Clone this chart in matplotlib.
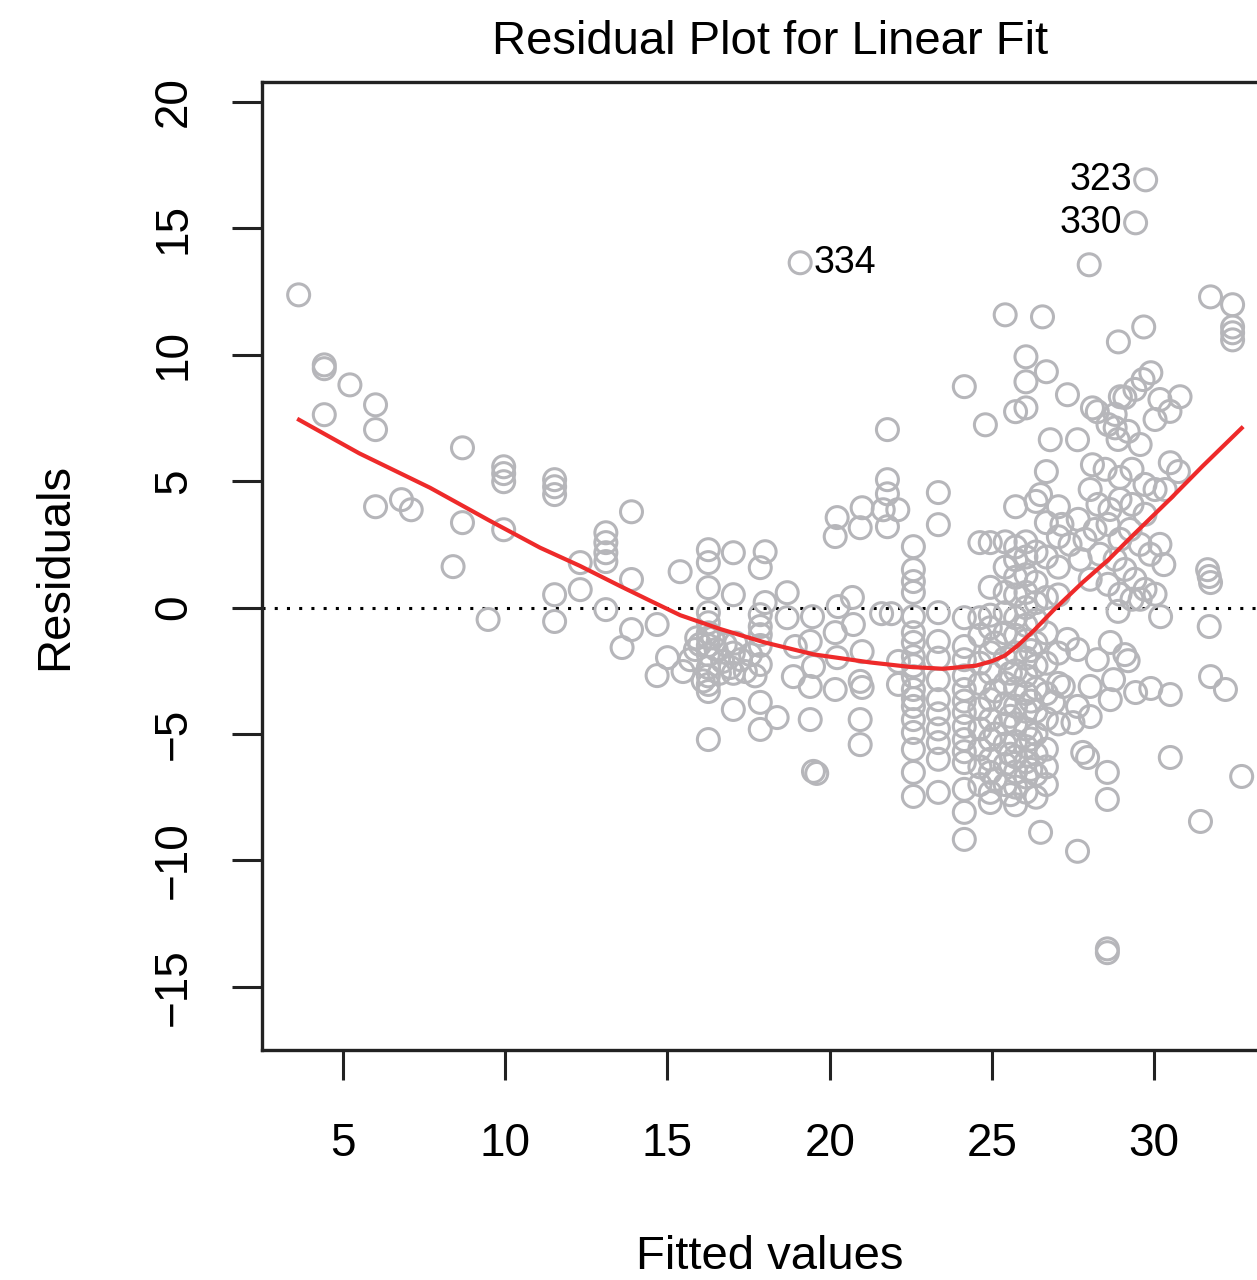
import numpy as np
import matplotlib
matplotlib.use("Agg")
import matplotlib.pyplot as plt

plt.rcParams['font.family'] = ['Liberation Sans', 'DejaVu Sans']

# scattered single points: fitted value, residual
loose_fit = [3.63, 4.42, 4.42, 4.42, 5.21, 6.0, 6.0, 6.0, 6.8, 7.1, 8.39, 8.68, 8.68, 9.47,
             11.52, 11.52, 11.52, 11.52, 11.52, 12.31, 12.31, 13.89, 13.89, 13.89, 13.6,
             14.68, 14.68, 15.0, 15.39, 15.48,
             16.0, 15.86, 15.7, 16.5, 16.7, 16.78, 16.94, 17.25, 17.4, 17.56,
             16.4, 16.6, 17.1, 17.7, 16.1, 15.9,
             18.01, 18.01, 18.38, 18.69, 18.69, 18.88, 18.94,
             19.4, 19.4, 19.4, 19.47, 19.5, 19.5, 19.6,
             20.17, 20.17, 20.17, 20.23, 20.23, 20.26, 20.7, 20.73,
             20.94, 20.94, 20.94, 20.94, 21.0, 21.0, 21.0,
             21.65, 21.78, 21.78, 21.78, 21.78, 21.6, 21.9, 22.1, 22.12, 22.12,
             24.8, 26.5, 26.5, 26.56, 26.8, 26.9, 27.2, 27.33, 27.33, 27.5,
             27.64, 27.64, 27.64, 27.64, 27.8, 27.95, 28.0, 28.03, 28.03, 28.1, 28.1,
             28.25, 28.25, 28.56, 28.56, 28.65, 28.65, 28.75, 28.8, 28.9, 28.96,
             29.43, 29.68, 29.9, 30.2, 30.3, 30.5, 30.5, 30.5, 30.75, 30.8, 31.43,
             31.65, 31.7, 31.7, 31.74, 31.74, 31.74, 32.2, 32.7,
             29.1, 29.2, 29.9]
loose_res = [12.37, 9.6, 9.45, 7.63, 8.81, 8.02, 7.04, 3.99, 4.27, 3.87, 1.62, 6.32, 3.36, -0.47,
             5.06, 4.78, 4.47, 0.51, -0.55, 1.78, 0.71, 3.79, 1.11, -0.87, -1.58,
             -0.67, -2.69, -1.98, 1.42, -2.53,
             -1.46, -1.66, -2.06, -1.66, -2.13, -1.46, -2.37, -2.06, -2.53, -1.86,
             -1.2, -2.6, -1.4, -2.7, -2.9, -1.2,
             2.21, 0.2, -4.35, -0.4, 0.59, -2.73, -1.54,
             -1.34, -3.12, -4.43, -0.36, -2.33, -6.48, -6.56,
             2.81, -0.99, -3.24, 3.56, -1.98, 0.04, 0.4, -0.67,
             3.16, -2.92, -4.43, -5.42, 3.95, -1.74, -3.16,
             3.87, 7.04, 5.06, 4.5, 3.2, -0.24, -0.24, 3.87, -2.13, -3.04,
             7.23, 4.47, -8.89, 11.5, 6.64, -3.75, -3.12, 8.42, -1.26, -4.55,
             6.64, -1.66, -3.91, -9.64, -5.73, -5.93, 13.56, -3.12, -4.31, 7.9, 5.65,
             7.75, -2.06, -6.52, -7.59, -1.38, -3.64, -2.85, 7.11, 10.51, 8.34,
             -3.36, 11.1, 9.29, -0.36, 1.7, 5.73, -3.44, -5.93, 5.38, 8.34, -8.46,
             1.5, 1.23, -0.75, 0.99, 12.29, -2.73, -3.24, -6.68,
             -1.86, -2.1, -3.2]

# right-hand cloud above the zero line
cloud_fit = [28.8, 29.1, 29.41, 29.66, 30.18, 30.49, 28.58, 28.89, 29.2, 29.57, 30.03,
             28.49, 28.95, 29.32, 29.72, 30.03, 30.34, 28.03, 28.27, 28.64, 28.95, 29.32,
             29.72, 28.18, 28.58, 28.95, 29.26, 29.57, 29.88, 30.18, 28.33, 28.8, 29.1,
             29.41, 29.72, 30.03, 28.58, 28.95, 29.32, 28.89, 29.57, 28.03, 27.72, 27.41,
             27.16, 27.66, 27.87]
cloud_res = [7.64, 8.31, 8.63, 9.02, 8.23, 7.76, 7.24, 6.65, 6.97, 6.45, 7.44,
             5.47, 5.15, 5.47, 4.87, 4.67, 4.67, 4.67, 4.08, 3.88, 4.28, 4.08,
             3.69, 3.09, 3.29, 2.7, 3.09, 2.5, 2.11, 2.5, 2.11, 1.91, 1.51,
             1.12, 0.72, 0.53, 0.92, 0.53, 0.33, -0.15, 0.33, 1.12, 1.91, 2.5,
             3.29, 3.49, 2.7]

# stacked columns (several cars share the same fitted value)
stack_fit = [9.95, 13.1, 16.26, 17.03, 17.86, 22.58, 23.35, 24.15, 24.63, 24.95,
             25.1, 25.41, 25.57, 25.73, 26.05, 26.2, 26.36, 26.68, 27.05, 28.56, 32.42]
stack_res = [
    [5.57, 5.3, 4.98, 3.08],
    [2.96, 2.57, 2.17, 1.82, -0.08],
    [2.29, 1.78, 0.79, -0.2, -0.6, -1.0, -1.2, -1.5, -1.86, -2.37, -2.7, -3.04, -3.32, -5.22],
    [2.17, 0.51, -1.8, -2.6, -4.03],
    [1.58, -0.28, -0.75, -1.07, -1.5, -2.25, -3.75, -4.82],
    [2.41, 1.5, 1.03, 0.6, -0.36, -0.99, -1.38, -1.94, -2.3, -2.73, -3.24, -3.6, -3.91,
     -4.43, -4.94, -5.61, -6.52, -7.47],
    [4.55, 3.28, -0.2, -1.34, -2.0, -2.85, -3.64, -4.2, -4.8, -5.34, -6.0, -7.31],
    [8.74, -0.4, -1.54, -2.06, -2.7, -3.24, -3.7, -4.15, -4.7, -5.22, -5.7, -6.13, -7.19,
     -8.1, -9.17],
    [2.57, -0.4, -1.1, -2.2, -3.0, -4.0, -4.8, -5.6, -6.3, -7.0],
    [2.57, 0.8, -0.3, -0.8, -1.78, -2.57, -3.64, -4.43, -5.22, -6.0, -6.52, -7.31, -7.71],
    [-1.4, -3.3, -5.0, -6.8],
    [11.58, 2.6, 1.6, 0.6, -0.2, -1.0, -2.0, -3.0, -3.8, -4.6, -5.4, -6.2, -7.0],
    [-2.6, -4.3, -5.8, -7.4],
    [7.75, 3.99, 2.4, 1.9, 1.2, 0.5, -0.4, -1.1, -1.8, -2.5, -3.2, -3.9, -4.6, -5.3, -5.9,
     -6.5, -7.1, -7.8],
    [9.92, 8.93, 7.9, 2.6, 2.0, 1.3, 0.6, 0.0, -0.7, -1.3, -2.0, -2.7, -3.4, -4.1, -4.8,
     -5.5, -6.1, -6.7, -7.3],
    [-1.7, -3.7, -5.2, -6.4],
    [4.2, 2.2, 1.0, 0.2, -0.5, -1.4, -2.3, -3.2, -4.1, -5.0, -5.8, -6.6, -7.5],
    [9.33, 5.38, 3.36, 2.0, 0.4, -1.0, -2.2, -3.4, -4.4, -5.6, -6.3, -7.0],
    [3.99, 2.8, 1.6, 0.5, -1.8, -3.0, -4.6],
    [-13.5, -13.65],
    [11.98, 11.1, 10.87, 10.59],
]

# observations flagged by number
label_fit = [19.09, 29.74, 29.43]
label_res = [13.64, 16.92, 15.22]
label_ids = ['334', '323', '330']

# smooth trend through the residuals
smooth_fit = [3.64, 5.5, 7.68, 9.5, 11.07, 12.3, 13.54, 14.5, 15.39, 16.63, 18.0, 19.5,
              21.25, 22.5, 23.5, 24.5, 25.0, 25.4, 25.8, 26.3, 26.9, 27.8, 28.6, 29.3,
              30.5, 31.5, 32.7]
smooth_res = [7.43, 6.1, 4.74, 3.45, 2.37, 1.65, 0.85, 0.25, -0.30, -0.85, -1.38, -1.85,
              -2.17, -2.35, -2.42, -2.3, -2.12, -1.9, -1.5, -0.9, -0.1, 1.0, 1.9, 2.8,
              4.3, 5.6, 7.1]

fitted = np.concatenate([loose_fit, cloud_fit,
                         np.repeat(stack_fit, [len(r) for r in stack_res]), label_fit])
resid = np.concatenate([loose_res, cloud_res,
                        np.concatenate(stack_res), label_res])

fig = plt.figure(figsize=(12.57, 12.8), dpi=100)
ax = fig.add_axes([262 / 1257, 1 - 1050 / 1280, (1278 - 262) / 1257, (1050 - 82) / 1280])

ax.scatter(fitted, resid, s=250, facecolors='none', edgecolors='#b6b6ba',
           linewidths=2.2, zorder=2)
ax.axhline(0, color='black', lw=2.2, linestyle=(0, (1, 3)), zorder=1)
ax.plot(smooth_fit, smooth_res, color='#ee2a2a', lw=3.0, zorder=3,
        solid_joinstyle='round')

for x, y, t in zip(label_fit, label_res, label_ids):
    if t == '334':
        ax.annotate(t, (x, y), xytext=(10, 0), textcoords='offset points',
                    ha='left', va='center', fontsize=27)
    else:
        ax.annotate(t, (x, y), xytext=(-10, 0), textcoords='offset points',
                    ha='right', va='center', fontsize=27)

ax.set_xlim(2.5, 33.82)
ax.set_ylim(-17.5, 20.79)
ax.set_xticks([5, 10, 15, 20, 25, 30])
ax.set_yticks([-15, -10, -5, 0, 5, 10, 15, 20])
ax.set_yticklabels(['\u221215', '\u221210', '\u22125', '0', '5', '10', '15', '20'],
                   rotation=90, va='center')
ax.tick_params(length=21.6, width=2.2, labelsize=33, color='#222222')
ax.tick_params(axis='x', pad=30)
ax.tick_params(axis='y', pad=26)
for sp in ax.spines.values():
    sp.set_linewidth(2.4)
    sp.set_color('#222222')

fig.text(770 / 1257, 1 - 42 / 1280, 'Residual Plot for Linear Fit', fontsize=34,
         ha='center', va='center')
fig.text(770 / 1257, 1 - 1257 / 1280, 'Fitted values', fontsize=34,
         ha='center', va='center')
fig.text(55 / 1257, 1 - 566 / 1280, 'Residuals', fontsize=34, rotation=90,
         ha='center', va='center')

fig.savefig('out.png', dpi=100)
